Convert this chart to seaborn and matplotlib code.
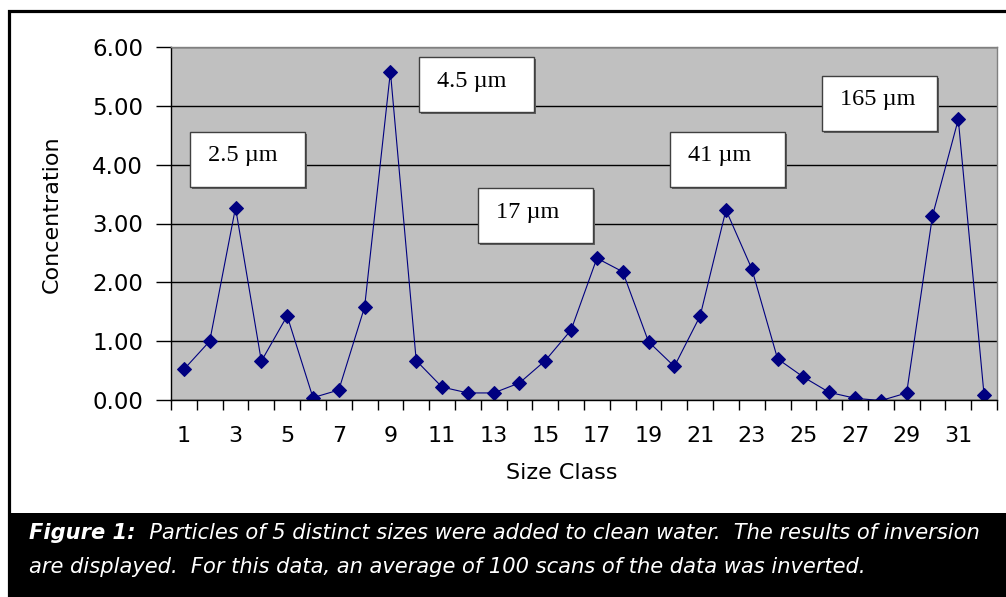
import numpy as np
import pandas as pd
import seaborn as sns
import matplotlib.pyplot as plt
from matplotlib.patches import Rectangle
from matplotlib.text import Annotation
from matplotlib.ticker import FormatStrFormatter, MultipleLocator, FixedLocator

# values
size_class = list(range(1, 33))
concentration = [0.52, 1.00, 3.27, 0.66, 1.43, 0.04, 0.17, 1.58, 5.58, 0.67,
                 0.22, 0.12, 0.12, 0.29, 0.67, 1.19, 2.41, 2.18, 0.99, 0.57,
                 1.43, 3.23, 2.23, 0.70, 0.39, 0.13, 0.03, -0.01, 0.12, 3.13,
                 4.77, 0.08]
x_tick_labels = [str(i) for i in range(1, 33, 2)]
y_ticks = [0, 1, 2, 3, 4, 5, 6]
peak_labels = ["2.5 \u00b5m", "4.5 \u00b5m", "17 \u00b5m", "41 \u00b5m", "165 \u00b5m"]
caption_bold = "Figure 1:"
caption_line1 = "  Particles of 5 distinct sizes were added to clean water.  The results of inversion"
caption_line2 = "are displayed.  For this data, an average of 100 scans of the data was inverted."

df = pd.DataFrame({"size_class": size_class, "concentration": concentration})

sns.set_style("white")
plt.rcParams["font.family"] = ["DejaVu Sans"]
plt.rcParams["text.color"] = "black"
plt.rcParams["axes.labelcolor"] = "black"
plt.rcParams["xtick.color"] = "black"
plt.rcParams["ytick.color"] = "black"

W, H = 1006, 597
fig = plt.figure(figsize=(W / 100, H / 100), dpi=100)

# pixel helpers (layout only)
def fx(px):
    return px / W

def fy(py):
    return 1 - py / H

# plot area: x 171..997, y 47..400 px
ax = fig.add_axes([fx(171), fy(400), fx(997) - fx(171), fy(47) - fy(400)])
ax.set_facecolor("#c0c0c0")

sns.lineplot(data=df, x="size_class", y="concentration", ax=ax,
             color="#000080", linewidth=0.8, marker="D", markersize=7.5,
             markeredgecolor="#000080", markerfacecolor="#000080")

ax.set_xlim(0.5, 32.5)
ax.set_ylim(0, 6)
ax.yaxis.set_major_locator(FixedLocator(y_ticks))
ax.yaxis.set_major_formatter(FormatStrFormatter("%.2f"))
ax.grid(axis="y", color="black", linewidth=1)
ax.set_axisbelow(True)

ax.xaxis.set_major_locator(FixedLocator(list(range(1, 33, 2))))
ax.set_xticklabels(x_tick_labels)
ax.xaxis.set_minor_locator(MultipleLocator(1, offset=0.5))
ax.tick_params(axis="x", which="major", length=0, pad=19, labelsize=16)
ax.tick_params(axis="x", which="minor", length=7, width=1, color="black", direction="out", bottom=True)
ax.tick_params(axis="y", which="major", length=11, width=1, color="black", direction="out",
               pad=9, labelsize=16.5, left=True)

for s in ["top", "right"]:
    ax.spines[s].set_color("#808080")
    ax.spines[s].set_linewidth(1)
for s in ["left", "bottom"]:
    ax.spines[s].set_color("black")
    ax.spines[s].set_linewidth(1)

ax.set_xlabel("Size Class", fontsize=16)
ax.set_ylabel("Concentration", fontsize=16)
ax.xaxis.set_label_coords(0.473, -0.207)
ax.xaxis.label.set_va("center")
ax.yaxis.set_label_coords(-0.144, 0.527)
ax.yaxis.label.set_va("center")

# label boxes (left, top in px)
box_pos = [(190, 132), (419, 57), (478, 188), (670, 132), (822, 76)]
for (bx, by), lab in zip(box_pos, peak_labels):
    fig.patches.append(Rectangle((fx(bx + 2), fy(by + 57)), 115 / W, 55 / H,
                                 transform=fig.transFigure, facecolor="#606060",
                                 edgecolor="none", zorder=4))
    fig.patches.append(Rectangle((fx(bx), fy(by + 55)), 115 / W, 55 / H,
                                 transform=fig.transFigure, facecolor="white",
                                 edgecolor="#404040", linewidth=1, zorder=5))
    fig.text(fx(bx + 18), fy(by + 24), lab, fontsize=17.5, family=["Liberation Serif"],
             ha="left", va="center", zorder=6)

# outer frame and caption bar
fig.patches.append(Rectangle((fx(8.5), fy(597)), 1.2, fy(10.5) - fy(597),
                             transform=fig.transFigure, facecolor="none",
                             edgecolor="black", linewidth=2.3, zorder=1))
fig.patches.append(Rectangle((fx(8), 0), 1.0, fy(513),
                             transform=fig.transFigure, facecolor="black",
                             edgecolor="none", zorder=2))

cap_size = 15.1
t1 = fig.text(fx(29), fy(539), caption_bold, color="white", fontsize=cap_size,
              style="italic", weight="bold", va="baseline", ha="left", zorder=3)
rest = Annotation(caption_line1, xy=(1, 0), xycoords=t1, color="white", fontsize=cap_size,
                  style="italic", va="bottom", ha="left", annotation_clip=False)
rest.set_zorder(3)
fig.add_artist(rest)
fig.text(fx(29), fy(573), caption_line2, color="white", fontsize=cap_size,
         style="italic", va="baseline", ha="left", zorder=3)

fig.savefig("out.png", dpi=100)
